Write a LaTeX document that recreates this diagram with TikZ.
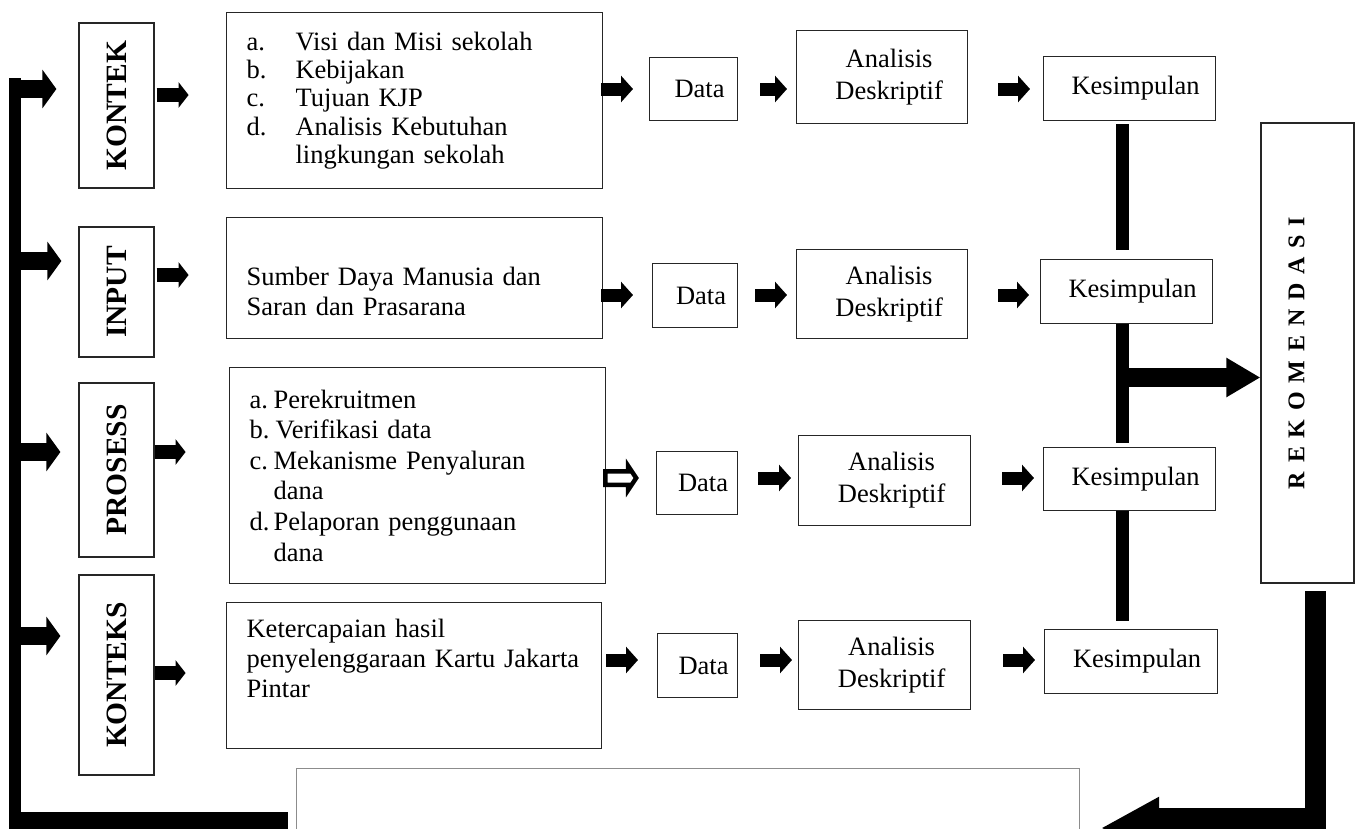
\documentclass[tikz,border=0pt]{standalone}
\usepackage{fontspec}
\setmainfont{Liberation Serif}
\usetikzlibrary{arrows.meta,calc}
\newcommand\rkgap{\hspace{8.8pt}}
\begin{document}
\begin{tikzpicture}[x=1pt,y=-1pt,
  box/.style={draw=black!85,line width=1.2pt,inner sep=0pt,anchor=north west,font=\fontsize{26.5}{30}\selectfont},
  sbox/.style={box,align=center,font=\fontsize{26.5}{32}\selectfont},
  tbox/.style={box,inner xsep=20pt,align=left},
  lbl/.style={draw=black!85,line width=1.2pt,inner sep=0pt,rotate=90,minimum height=75pt,font=\fontsize{29.5}{32}\selectfont\bfseries},
  leftarr/.style={line width=18pt,-{Triangle[length=14pt,width=38pt]}},
  smallarr/.style={line width=14pt,-{Triangle[length=10pt,width=25pt]}},
  rowarr/.style={line width=13pt,-{Triangle[length=12pt,width=26pt]}},
  vbar/.style={line width=13pt},
]
\useasboundingbox (0,0) rectangle (1358,828);
\clip (0,0) rectangle (1358,828);

% label boxes (rotated: .north is the left side, .south the right side)
\node[lbl,minimum width=165pt] (L1) at (116.5,105.5) {KONTEK};
\node[lbl,minimum width=130pt] (L2) at (116.5,292) {INPUT};
\node[lbl,minimum width=174pt] (L3) at (116.5,470) {PROSESS};
\node[lbl,minimum width=200pt] (L4) at (116.5,675) {KONTEKS};

% content boxes
\node[tbox,text width=336pt,minimum height=176pt,font=\fontsize{26.5}{28.3}\selectfont] (B1) at (226,12) {%
\makebox[49pt][l]{a.}Visi dan Misi sekolah\\
\makebox[49pt][l]{b.}Kebijakan\\
\makebox[49pt][l]{c.}Tujuan KJP\\
\makebox[49pt][l]{d.}Analisis Kebutuhan\\
\hspace*{49pt}lingkungan sekolah};
\node[tbox,text width=336pt,minimum height=121pt] (B2) at (226,217) {\rule{0pt}{45pt}Sumber Daya Manusia dan\\Saran dan Prasarana};
\node[tbox,text width=336pt,minimum height=216pt,font=\fontsize{26.5}{30.6}\selectfont] (B3) at (229,367) {%
\makebox[24pt][l]{a.}Perekruitmen\\
\makebox[26pt][l]{b.}Verifikasi data\\
\makebox[24pt][l]{c.}Mekanisme Penyaluran\\
\hspace*{24pt}dana\\
\makebox[24pt][l]{d.}Pelaporan penggunaan\\
\hspace*{24pt}dana};
\node[tbox,text width=335pt,minimum height=146pt] (B4) at (226,602) {Ketercapaian hasil\\penyelenggaraan Kartu Jakarta\\Pintar\rule[-34pt]{0pt}{34pt}};

% data boxes
\node[sbox,minimum width=88pt,minimum height=63pt] (D1) at (649,57) {\hspace*{12pt}Data};
\node[sbox,minimum width=85pt,minimum height=64pt] (D2) at (652,263) {\hspace*{12pt}Data};
\node[sbox,minimum width=81pt,minimum height=63pt] (D3) at (656,451) {\hspace*{12pt}Data};
\node[sbox,minimum width=80pt,minimum height=64pt] (D4) at (657,633) {\hspace*{12pt}Data};

% analisis boxes
\node[sbox,minimum width=171pt,minimum height=93pt] (A1) at (796,30) {\hspace*{14pt}Analisis\\\hspace*{14pt}Deskriptif};
\node[sbox,minimum width=171pt,minimum height=89pt] (A2) at (796,249) {\hspace*{14pt}Analisis\\\hspace*{14pt}Deskriptif};
\node[sbox,minimum width=172pt,minimum height=90pt] (A3) at (798,435) {\hspace*{14pt}Analisis\\\hspace*{14pt}Deskriptif};
\node[sbox,minimum width=172pt,minimum height=89pt] (A4) at (798,620) {\hspace*{14pt}Analisis\\\hspace*{14pt}Deskriptif};

% kesimpulan boxes
\node[sbox,minimum width=172pt,minimum height=64pt] (K1) at (1043,56) {\hspace*{12pt}Kesimpulan};
\node[sbox,minimum width=172pt,minimum height=64pt] (K2) at (1040,259) {\hspace*{12pt}Kesimpulan};
\node[sbox,minimum width=172pt,minimum height=63pt] (K3) at (1043,447) {\hspace*{12pt}Kesimpulan};
\node[sbox,minimum width=173pt,minimum height=64pt] (K4) at (1044,629) {\hspace*{12pt}Kesimpulan};

% rekomendasi
\node[draw=black!85,line width=1.2pt,inner sep=0pt,rotate=90,minimum width=460pt,minimum height=93pt,font=\fontsize{24}{26}\selectfont\bfseries] (REK) at (1307.5,353)
 {R\rkgap E\rkgap K\rkgap O\rkgap M\rkgap E\rkgap N\rkgap D\rkgap A\rkgap S\rkgap I\rule[-22pt]{0pt}{22pt}};

% bottom open box
\node[box,draw=black!45,line width=1pt,minimum width=783pt,minimum height=140pt] (BOT) at (296,768) {};

% row coordinates
\coordinate (r1) at (0,89);
\coordinate (r2) at (0,295);
\coordinate (r3) at (0,478);
\coordinate (r4) at (0,660);
\coordinate (s1) at (0,95);
\coordinate (s2) at (0,275);
\coordinate (s3) at (0,452);
\coordinate (s4) at (0,673);
\coordinate (l1) at (15,89);
\coordinate (l2) at (15,261);
\coordinate (l3) at (15,452);
\coordinate (l4) at (15,636);

% left loop bar
\coordinate (lbTop) at (9,78);
\coordinate (lbCorner) at (21,840);
\coordinate (lbEnd) at ($(BOT.north west |- 0,812)+(-8,0)$);
\fill (lbTop) rectangle (lbCorner);
\fill (9,840) rectangle (lbEnd);

% left bar arrows to labels
\draw[leftarr] (l1) -- ($(L1.north |- l1)+(-22,0)$);
\draw[leftarr] (l2) -- ($(L2.north |- l2)+(-17,0)$);
\draw[leftarr] (l3) -- ($(L3.north |- l3)+(-18,0)$);
\draw[leftarr] (l4) -- ($(L4.north |- l4)+(-18,0)$);

% small arrows label -> content
\draw[smallarr] ($(L1.south |- s1)+(2,0)$) -- ($(L1.south |- s1)+(34,0)$);
\draw[smallarr] ($(L2.south |- s2)+(2,0)$) -- ($(L2.south |- s2)+(34,0)$);
\draw[smallarr] ($(L3.south |- s3)+(0,0)$) -- ($(L3.south |- s3)+(31,0)$);
\draw[smallarr] ($(L4.south |- s4)+(0,0)$) -- ($(L4.south |- s4)+(31,0)$);

% row arrows
\draw[rowarr] ($(B1.east |- r1)+(-2,0)$) -- ($(D1.west |- r1)+(-16,0)$);
\draw[rowarr] ($(D1.east |- r1)+(22,0)$) -- ($(A1.west |- r1)+(-9,0)$);
\draw[rowarr] ($(A1.east |- r1)+(30,0)$) -- ($(K1.west |- r1)+(-13,0)$);

\draw[rowarr] ($(B2.east |- r2)+(-2,0)$) -- ($(D2.west |- r2)+(-19,0)$);
\draw[rowarr] ($(D2.east |- r2)+(17,0)$) -- ($(A2.west |- r2)+(-9,0)$);
\draw[rowarr] ($(A2.east |- r2)+(30,0)$) -- ($(K2.west |- r2)+(-11,0)$);

\begin{scope}[shift={(B3.east |- r3)}]
\draw[line width=4.5pt,fill=white,line join=miter] (-0.75,-6.75) -- (22,-6.75) -- (22,-12) -- (30,0) -- (22,12) -- (22,6.75) -- (-0.75,6.75) -- cycle;
\end{scope}
\draw[rowarr] ($(D3.east |- r3)+(20,0)$) -- ($(A3.west |- r3)+(-7,0)$);
\draw[rowarr] ($(A3.east |- r3)+(31,0)$) -- ($(K3.west |- r3)+(-9,0)$);

\draw[rowarr] ($(B4.east |- r4)+(4,0)$) -- ($(D4.west |- r4)+(-19,0)$);
\draw[rowarr] ($(D4.east |- r4)+(22,0)$) -- ($(A4.west |- r4)+(-6,0)$);
\draw[rowarr] ($(A4.east |- r4)+(32,0)$) -- ($(K4.west |- r4)+(-9,0)$);

% kesimpulan vertical bars
\coordinate (bx) at (1122.5,0);
\draw[vbar] ($(K1.south -| bx)+(0,3)$) -- ($(K2.north -| bx)+(0,-9)$);
\draw[vbar] (K2.south -| bx) -- ($(K3.north -| bx)+(0,-4)$);
\draw[vbar] (K3.south -| bx) -- ($(K4.north -| bx)+(0,-8)$);
\coordinate (yb) at (0,377.5);
\draw[line width=19pt,-{Triangle[length=34pt,width=37pt]}] (bx |- yb) -- (REK.north |- yb);

% return arrow from REKOMENDASI to bottom box
\coordinate (yret) at (0,828);
\coordinate (rA) at ($(REK.west)+(8,7)$);
\coordinate (rC) at (rA |- yret);
\coordinate (rT) at ($(BOT.north east |- yret)+(21,0)$);
\fill ($(rA)+(-10.5,0)$) rectangle ($(rC)+(10.5,20)$);
\draw[line width=40pt,-{Triangle[length=58pt,width=58pt]}] ($(rC)+(10.5,0)$) -- (rT);
\end{tikzpicture}
\end{document}
